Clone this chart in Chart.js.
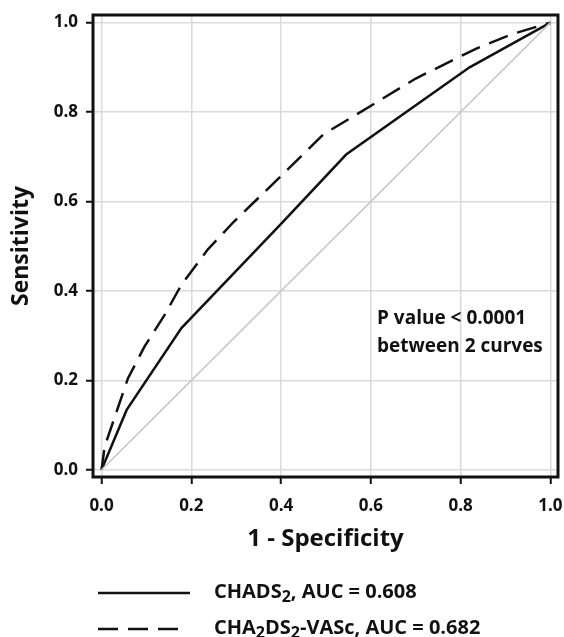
<!DOCTYPE html>
<html>
<head>
<meta charset="utf-8">
<script src="https://cdn.jsdelivr.net/npm/chart.js@4.4.1/dist/chart.umd.min.js"></script>
<style>
  html, body { margin: 0; padding: 0; background: #fff; }
  canvas { display: block; }
</style>
</head>
<body>
<canvas id="roc" width="564" height="637"></canvas>
<script>
// ticks for both axes
const axisTicks = [0, 0.2, 0.4, 0.6, 0.8, 1.0];

// CHADS2 curve (1 - specificity, sensitivity)
const chadsFpr = [0, 0.056, 0.178, 0.4, 0.545, 0.82, 1];
const chadsTpr = [0, 0.134, 0.317, 0.55, 0.705, 0.90, 1];

// CHA2DS2-VASc curve
const vascFpr = [0, 0.007, 0.059, 0.096, 0.141, 0.178, 0.237, 0.293, 0.4, 0.494, 0.605, 0.7, 0.835, 0.917, 1];
const vascTpr = [0, 0.052, 0.205, 0.276, 0.347, 0.414, 0.493, 0.553, 0.657, 0.75, 0.817, 0.875, 0.942, 0.975, 1];

// reference diagonal
const diagFpr = [0, 1];
const diagTpr = [0, 1];

// legend text, pieces marked sub are drawn as subscripts
const chadsLabel = [["CHADS"], ["2", "sub"], [", AUC = 0.608"]];
const vascLabel = [["CHA"], ["2", "sub"], ["DS"], ["2", "sub"], ["-VASc, AUC = 0.682"]];
const noteLines = ["P value < 0.0001", "between 2 curves"];

const FONT = "'Open Sans', 'DejaVu Sans', sans-serif";

const toPoints = (xs, ys) => xs.map((x, i) => ({ x: x, y: ys[i] }));

function drawRich(ctx, parts, x, y, size) {
  let cx = x;
  for (const p of parts) {
    const sub = p[1] === "sub";
    ctx.font = "bold " + (sub ? Math.round(size * 0.78) : size) + "px " + FONT;
    ctx.fillText(p[0], cx, sub ? y + size * 0.28 : y);
    cx += ctx.measureText(p[0]).width;
  }
}

const extras = {
  id: "extras",
  afterDraw(chart) {
    const ctx = chart.ctx;
    const a = chart.chartArea;
    ctx.save();

    // frame
    ctx.strokeStyle = "#111";
    ctx.lineWidth = 3;
    ctx.strokeRect(a.left, a.top, a.right - a.left, a.bottom - a.top);

    // p value note
    ctx.fillStyle = "#111";
    ctx.textBaseline = "middle";
    ctx.textAlign = "left";
    ctx.font = "bold 19px " + FONT;
    ctx.fillText(noteLines[0], 377, 319);
    ctx.fillText(noteLines[1], 377, 347);

    // legend
    ctx.strokeStyle = "#111";
    ctx.lineWidth = 2.5;
    ctx.beginPath();
    ctx.moveTo(98, 593);
    ctx.lineTo(190, 593);
    ctx.stroke();
    ctx.setLineDash([20, 10]);
    ctx.beginPath();
    ctx.moveTo(98, 629);
    ctx.lineTo(178, 629);
    ctx.stroke();
    ctx.setLineDash([]);

    drawRich(ctx, chadsLabel, 214, 592, 20);
    drawRich(ctx, vascLabel, 214, 628, 20);
    ctx.restore();
  }
};

const tickFont = { family: FONT, size: 17, weight: "bold" };

new Chart(document.getElementById("roc"), {
  type: "line",
  data: {
    datasets: [
      {
        label: "diagonal",
        data: toPoints(diagFpr, diagTpr),
        borderColor: "#c8c8c8",
        borderWidth: 1.5,
        pointRadius: 0
      },
      {
        label: "CHADS2",
        data: toPoints(chadsFpr, chadsTpr),
        borderColor: "#111",
        borderWidth: 2.5,
        pointRadius: 0,
        tension: 0
      },
      {
        label: "CHA2DS2-VASc",
        data: toPoints(vascFpr, vascTpr),
        borderColor: "#111",
        borderWidth: 2.5,
        borderDash: [20, 10],
        pointRadius: 0,
        tension: 0
      }
    ]
  },
  options: {
    responsive: false,
    animation: false,
    layout: { padding: { top: 15, right: 6, left: 0, bottom: 0 } },
    plugins: {
      legend: { display: false },
      tooltip: { enabled: false }
    },
    scales: {
      x: {
        type: "linear",
        min: -0.019,
        max: 1.017,
        afterBuildTicks: (s) => { s.ticks = axisTicks.map(v => ({ value: v })); },
        afterFit: (s) => { s.height = 160; s.paddingLeft = 0; s.paddingRight = 0; },
        grid: { color: "#dadada", lineWidth: 1.5, tickColor: "#111", tickWidth: 2, tickLength: 7 },
        border: { display: false },
        ticks: { color: "#111", font: tickFont, padding: 12, maxRotation: 0, callback: v => v.toFixed(1) },
        title: {
          display: true,
          text: "1 - Specificity",
          color: "#111",
          font: { family: FONT, size: 24, weight: "bold" },
          padding: { top: 0, bottom: 83 }
        }
      },
      y: {
        type: "linear",
        min: -0.016,
        max: 1.017,
        afterBuildTicks: (s) => { s.ticks = axisTicks.map(v => ({ value: v })); },
        afterFit: (s) => { s.width = 93; s.paddingTop = 0; s.paddingBottom = 0; },
        grid: { color: "#dadada", lineWidth: 1.5, tickColor: "#111", tickWidth: 2, tickLength: 7 },
        border: { display: false },
        ticks: { color: "#111", font: tickFont, padding: 8, callback: v => v.toFixed(1) },
        title: {
          display: true,
          text: "Sensitivity",
          color: "#111",
          font: { family: FONT, size: 23, weight: "bold" },
          padding: { top: 8, bottom: 0 }
        }
      }
    }
  },
  plugins: [extras]
});
</script>
</body>
</html>
